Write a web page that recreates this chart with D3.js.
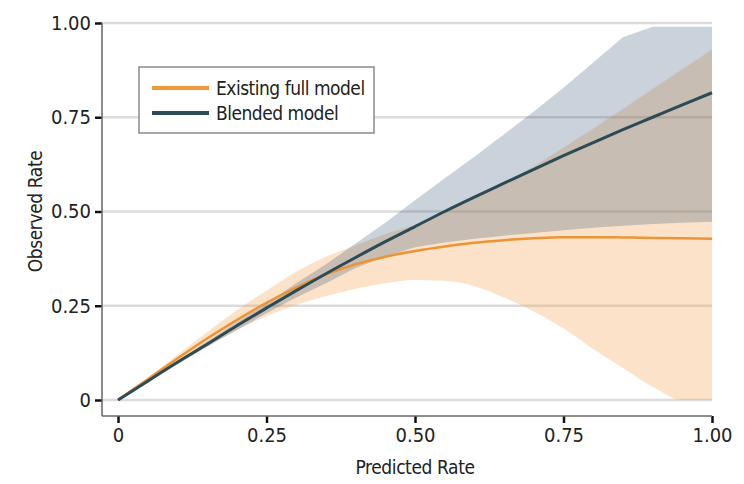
<!DOCTYPE html>
<html>
<head>
<meta charset="utf-8">
<script src="https://cdn.jsdelivr.net/npm/d3@7"></script>
<style>
  body { margin: 0; background: #fff; }
  text { font-family: "Liberation Sans Narrow", "DejaVu Sans Condensed", sans-serif; fill: #222; }
</style>
</head>
<body>
<div id="wrapper"></div>
<script>
// predicted rate grid
const predicted = [0, 0.05, 0.1, 0.15, 0.2, 0.25, 0.3, 0.35, 0.4, 0.45, 0.5,
  0.55, 0.6, 0.65, 0.7, 0.75, 0.8, 0.85, 0.9, 0.95, 1.0];

// existing full model
const fullObserved = [0, 0.055, 0.11, 0.163, 0.212, 0.258, 0.298, 0.333, 0.36, 0.38, 0.395,
  0.407, 0.417, 0.424, 0.429, 0.432, 0.432, 0.431, 0.43, 0.429, 0.428];
const fullLower = [0, 0.048, 0.093, 0.14, 0.185, 0.222, 0.252, 0.275, 0.295, 0.31, 0.318,
  0.316, 0.302, 0.272, 0.235, 0.19, 0.135, 0.085, 0.035, 0, 0];
const fullUpper = [0, 0.058, 0.12, 0.18, 0.238, 0.29, 0.34, 0.38, 0.41, 0.44, 0.465,
  0.5, 0.54, 0.578, 0.62, 0.67, 0.72, 0.772, 0.825, 0.877, 0.93];

// blended model
const blendedObserved = [0, 0.05, 0.1, 0.148, 0.197, 0.244, 0.29, 0.335, 0.378, 0.42, 0.46,
  0.5, 0.538, 0.575, 0.612, 0.648, 0.683, 0.717, 0.75, 0.783, 0.815];
const blendedLower = [0, 0.048, 0.096, 0.142, 0.186, 0.23, 0.272, 0.31, 0.35, 0.38, 0.405,
  0.418, 0.428, 0.436, 0.443, 0.45, 0.457, 0.462, 0.467, 0.47, 0.473];
const blendedUpper = [0, 0.052, 0.104, 0.155, 0.206, 0.256, 0.31, 0.36, 0.415, 0.47, 0.53,
  0.588, 0.645, 0.705, 0.765, 0.828, 0.895, 0.962, 0.99, 0.99, 0.99];

const ticks = [0, 0.25, 0.5, 0.75, 1.0];
const tickLabels = ["0", "0.25", "0.50", "0.75", "1.00"];
const seriesNames = ["Existing full model", "Blended model"];

const dimensions = {
  width: 744,
  height: 484,
  margin: { top: 23, right: 32, bottom: 84, left: 118 },
}
dimensions.boundedWidth = dimensions.width - dimensions.margin.left - dimensions.margin.right
dimensions.boundedHeight = dimensions.height - dimensions.margin.top - dimensions.margin.bottom

const wrapper = d3.select("#wrapper")
  .append("svg")
  .attr("width", dimensions.width)
  .attr("height", dimensions.height);

const bounds = wrapper.append("g")
  .attr("transform", `translate(${dimensions.margin.left},${dimensions.margin.top})`);

const xScaler = d3.scaleLinear()
  .domain([0, 1])
  .range([0, dimensions.boundedWidth]);

const yScaler = d3.scaleLinear()
  .domain([0, 1])
  .range([dimensions.boundedHeight, 0]);

const axisOffset = 16;

// gridlines
bounds.append("g")
  .selectAll("line")
  .data(ticks)
  .enter()
  .append("line")
  .attr("x1", -axisOffset)
  .attr("x2", dimensions.boundedWidth)
  .attr("y1", d => yScaler(d))
  .attr("y2", d => yScaler(d))
  .attr("stroke", "#dcdcdc")
  .attr("stroke-width", 2.5);

const rows = predicted.map((p, i) => ({
  x: p,
  fObs: fullObserved[i], fLo: fullLower[i], fHi: fullUpper[i],
  bObs: blendedObserved[i], bLo: blendedLower[i], bHi: blendedUpper[i],
}));

const bandGen = (lo, hi, curve) => d3.area()
  .x(d => xScaler(d.x))
  .y0(d => yScaler(d[lo]))
  .y1(d => yScaler(d[hi]))
  .curve(curve);

const lineGen = key => d3.line()
  .x(d => xScaler(d.x))
  .y(d => yScaler(d[key]))
  .curve(d3.curveMonotoneX);

bounds.append("path")
  .datum(rows)
  .attr("d", bandGen("fLo", "fHi", d3.curveMonotoneX))
  .attr("fill", "#f5a04a")
  .attr("fill-opacity", 0.3);

bounds.append("path")
  .datum(rows)
  .attr("d", bandGen("bLo", "bHi", d3.curveLinear))
  .attr("fill", "#2b5070")
  .attr("fill-opacity", 0.25);

bounds.append("path")
  .datum(rows)
  .attr("d", lineGen("fObs"))
  .attr("fill", "none")
  .attr("stroke", "#ec9436")
  .attr("stroke-width", 2.5);

bounds.append("path")
  .datum(rows)
  .attr("d", lineGen("bObs"))
  .attr("fill", "none")
  .attr("stroke", "#2d4b56")
  .attr("stroke-width", 3);

// axes
const xAxisGen = d3.axisBottom(xScaler)
  .tickValues(ticks)
  .tickFormat((d, i) => tickLabels[i])
  .tickSize(7)
  .tickSizeOuter(0)
  .tickPadding(5);
const xAxis = bounds.append("g")
  .attr("transform", `translate(0,${dimensions.boundedHeight + axisOffset})`)
  .call(xAxisGen);

const yAxisGen = d3.axisLeft(yScaler)
  .tickValues(ticks)
  .tickFormat((d, i) => tickLabels[i])
  .tickSize(7)
  .tickSizeOuter(0)
  .tickPadding(4);
const yAxis = bounds.append("g")
  .attr("transform", `translate(${-axisOffset},0)`)
  .call(yAxisGen);

[xAxis, yAxis].forEach(ax => {
  ax.select(".domain").remove();
  ax.selectAll(".tick line").attr("stroke", "#111").attr("stroke-width", 2.5);
  ax.selectAll(".tick text").attr("font-size", "20px").attr("fill", "#222");
});

// axis lines
bounds.append("line")
  .attr("x1", -axisOffset)
  .attr("x2", dimensions.boundedWidth)
  .attr("y1", dimensions.boundedHeight + axisOffset)
  .attr("y2", dimensions.boundedHeight + axisOffset)
  .attr("stroke", "#666")
  .attr("stroke-width", 1.5);
bounds.append("line")
  .attr("x1", -axisOffset)
  .attr("x2", -axisOffset)
  .attr("y1", yScaler(1))
  .attr("y2", dimensions.boundedHeight + axisOffset)
  .attr("stroke", "#666")
  .attr("stroke-width", 1.5);

// axis titles
bounds.append("text")
  .attr("x", xScaler(0.5))
  .attr("y", dimensions.boundedHeight + 74)
  .attr("text-anchor", "middle")
  .attr("font-size", "19px")
  .attr("letter-spacing", "-0.4px")
  .text("Predicted Rate");

bounds.append("text")
  .attr("transform", `translate(${-76},${yScaler(0.5)}) rotate(-90)`)
  .attr("text-anchor", "middle")
  .attr("font-size", "19px")
  .attr("letter-spacing", "-0.4px")
  .text("Observed Rate");

// legend
const legend = bounds.append("g")
  .attr("transform", "translate(21,44)");
legend.append("rect")
  .attr("width", 235)
  .attr("height", 66)
  .attr("fill", "#fff")
  .attr("stroke", "#8a8a8a")
  .attr("stroke-width", 1.5);
const legendColors = ["#f09a3e", "#2d4b56"];
const legendItems = legend.selectAll(".item")
  .data(seriesNames)
  .enter()
  .append("g")
  .attr("transform", (d, i) => `translate(0,${21 + i * 25})`);
legendItems.append("line")
  .attr("x1", 13)
  .attr("x2", 70)
  .attr("stroke", (d, i) => legendColors[i])
  .attr("stroke-width", 4);
legendItems.append("text")
  .attr("x", 77)
  .attr("y", 7)
  .attr("font-size", "19px")
  .attr("letter-spacing", "-0.5px")
  .text(d => d);
</script>
</body>
</html>
